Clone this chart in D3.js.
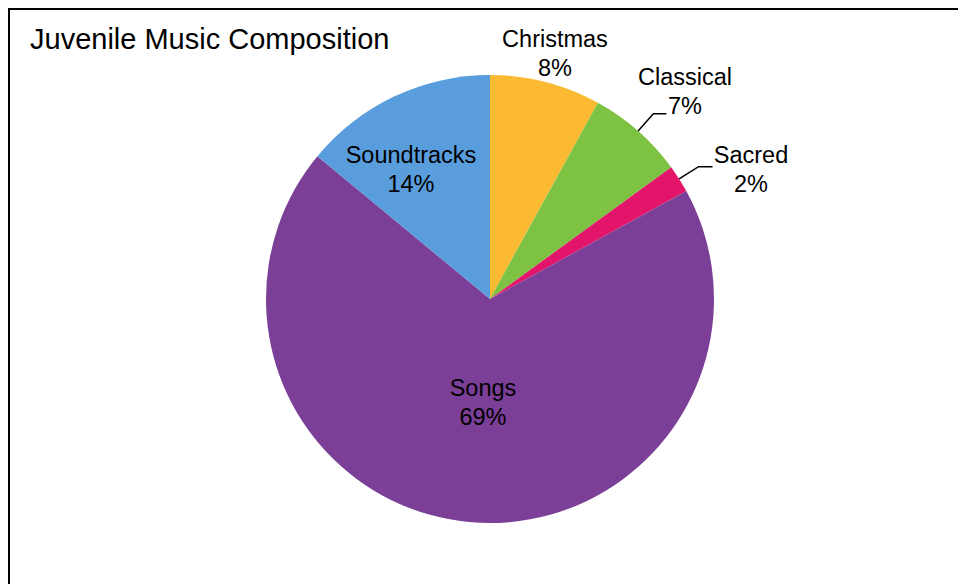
<!DOCTYPE html>
<html>
<head>
<meta charset="utf-8">
<script src="https://cdn.jsdelivr.net/npm/d3@7"></script>
<style>
  html, body { margin: 0; padding: 0; background: #fff; }
  svg { display: block; }
  text { font-family: "Liberation Sans", Arial, sans-serif; fill: #000; }
</style>
</head>
<body>
<svg id="chart" width="958" height="584"></svg>
<script>
// Genre shares (percent), clockwise from 12 o'clock
const genres = ["Christmas", "Classical", "Sacred", "Songs", "Soundtracks"];
const shares = [8, 7, 2, 69, 14];
const colors = ["#FBBA31", "#7DC242", "#E2156A", "#7B3F98", "#599DDC"];
const chartTitle = "Juvenile Music Composition";

const W = 958, H = 584;
const cx = 490, cy = 299, R = 224;

const svg = d3.select("#chart");

// outer frame
svg.append("rect")
  .attr("x", 9).attr("y", 9)
  .attr("width", W + 20).attr("height", H + 20)
  .attr("fill", "none").attr("stroke", "#000").attr("stroke-width", 2);

svg.append("text")
  .attr("x", 30).attr("y", 49)
  .attr("font-size", 29)
  .text(chartTitle);

const data = genres.map((g, i) => ({ genre: g, value: shares[i], color: colors[i] }));

const pie = d3.pie().value(d => d.value).sort(null);
const arcs = pie(data);
const arc = d3.arc().innerRadius(0).outerRadius(R);

const g = svg.append("g").attr("transform", `translate(${cx},${cy})`);

g.selectAll("path.slice")
  .data(arcs)
  .join("path")
  .attr("class", "slice")
  .attr("d", arc)
  .attr("fill", d => d.data.color);

// label placement: offset of the first baseline from the pie centre
const labelPos = {
  Christmas:   [65, -252],
  Classical:   [195, -214],
  Sacred:      [261, -136],
  Songs:       [-7, 97],
  Soundtracks: [-79, -136]
};
// slices whose labels sit outside and need a leader line
const leader = { Classical: 13, Sacred: 14 };

const fmt = d => Math.round(d) + "%";

arcs.forEach(a => {
  const name = a.data.genre;
  const [lx, ly] = labelPos[name];
  const t = g.append("text")
    .attr("text-anchor", "middle")
    .attr("font-size", 23.5);
  t.append("tspan").attr("x", lx).attr("y", ly).text(name);
  t.append("tspan").attr("x", lx).attr("y", ly + 28.5).text(fmt(a.data.value));

  if (leader[name] !== undefined) {
    const mid = (a.startAngle + a.endAngle) / 2;
    const p0 = [R * Math.sin(mid), -R * Math.cos(mid)];
    const r1 = R + 23;
    const p1 = [r1 * Math.sin(mid), -r1 * Math.cos(mid)];
    const p2 = [p1[0] + leader[name], p1[1]];
    g.append("path")
      .attr("d", d3.line()([p0, p1, p2]))
      .attr("fill", "none")
      .attr("stroke", "#000")
      .attr("stroke-width", 1.5);
  }
});
</script>
</body>
</html>
